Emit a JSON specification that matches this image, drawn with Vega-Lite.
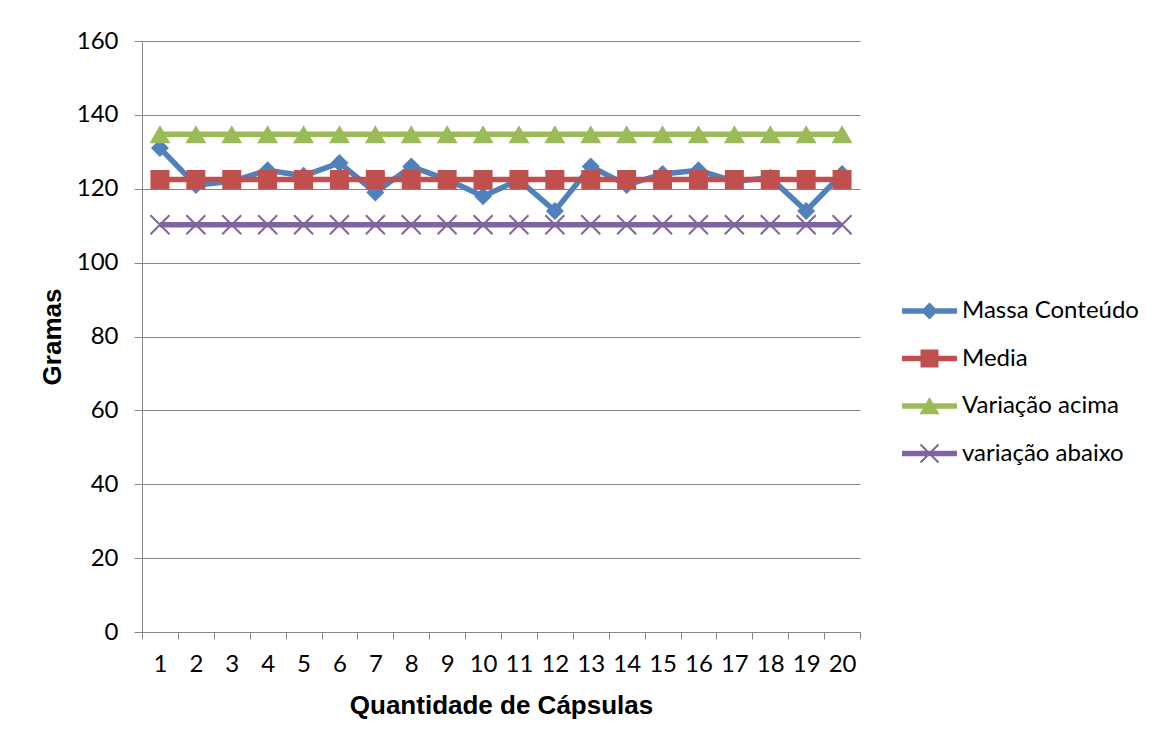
{
  "$schema": "https://vega.github.io/schema/vega-lite/v6.json",
  "width": 718,
  "height": 591,
  "autosize": {"type": "none"},
  "padding": {"left": 142, "top": 41, "right": 298, "bottom": 113},
  "background": "white",
  "config": {
    "view": {"stroke": null},
    "axis": {
      "domainColor": "#868686",
      "tickColor": "#868686",
      "gridColor": "#868686",
      "gridWidth": 1,
      "labelFont": "Lato",
      "labelFontSize": 24,
      "labelColor": "#000000",
      "titleFont": "Liberation Sans",
      "titleFontSize": 26,
      "titleFontWeight": "bold",
      "titleColor": "#000000"
    },
    "legend": {
      "labelFont": "Lato",
      "labelFontSize": 24,
      "labelColor": "#000000",
      "labelLimit": 0
    }
  },
  "data": {
    "values": [
      {"capsula": 1, "serie": "Massa Conteúdo", "valor": 131},
      {"capsula": 2, "serie": "Massa Conteúdo", "valor": 121},
      {"capsula": 3, "serie": "Massa Conteúdo", "valor": 122},
      {"capsula": 4, "serie": "Massa Conteúdo", "valor": 125},
      {"capsula": 5, "serie": "Massa Conteúdo", "valor": 123.5},
      {"capsula": 6, "serie": "Massa Conteúdo", "valor": 127},
      {"capsula": 7, "serie": "Massa Conteúdo", "valor": 119},
      {"capsula": 8, "serie": "Massa Conteúdo", "valor": 126},
      {"capsula": 9, "serie": "Massa Conteúdo", "valor": 122.5},
      {"capsula": 10, "serie": "Massa Conteúdo", "valor": 118},
      {"capsula": 11, "serie": "Massa Conteúdo", "valor": 122.4},
      {"capsula": 12, "serie": "Massa Conteúdo", "valor": 114},
      {"capsula": 13, "serie": "Massa Conteúdo", "valor": 126},
      {"capsula": 14, "serie": "Massa Conteúdo", "valor": 121},
      {"capsula": 15, "serie": "Massa Conteúdo", "valor": 124},
      {"capsula": 16, "serie": "Massa Conteúdo", "valor": 125},
      {"capsula": 17, "serie": "Massa Conteúdo", "valor": 122},
      {"capsula": 18, "serie": "Massa Conteúdo", "valor": 123},
      {"capsula": 19, "serie": "Massa Conteúdo", "valor": 114},
      {"capsula": 20, "serie": "Massa Conteúdo", "valor": 124},
      {"capsula": 1, "serie": "Media", "valor": 122.5},
      {"capsula": 2, "serie": "Media", "valor": 122.5},
      {"capsula": 3, "serie": "Media", "valor": 122.5},
      {"capsula": 4, "serie": "Media", "valor": 122.5},
      {"capsula": 5, "serie": "Media", "valor": 122.5},
      {"capsula": 6, "serie": "Media", "valor": 122.5},
      {"capsula": 7, "serie": "Media", "valor": 122.5},
      {"capsula": 8, "serie": "Media", "valor": 122.5},
      {"capsula": 9, "serie": "Media", "valor": 122.5},
      {"capsula": 10, "serie": "Media", "valor": 122.5},
      {"capsula": 11, "serie": "Media", "valor": 122.5},
      {"capsula": 12, "serie": "Media", "valor": 122.5},
      {"capsula": 13, "serie": "Media", "valor": 122.5},
      {"capsula": 14, "serie": "Media", "valor": 122.5},
      {"capsula": 15, "serie": "Media", "valor": 122.5},
      {"capsula": 16, "serie": "Media", "valor": 122.5},
      {"capsula": 17, "serie": "Media", "valor": 122.5},
      {"capsula": 18, "serie": "Media", "valor": 122.5},
      {"capsula": 19, "serie": "Media", "valor": 122.5},
      {"capsula": 20, "serie": "Media", "valor": 122.5},
      {"capsula": 1, "serie": "Variação acima", "valor": 134.75},
      {"capsula": 2, "serie": "Variação acima", "valor": 134.75},
      {"capsula": 3, "serie": "Variação acima", "valor": 134.75},
      {"capsula": 4, "serie": "Variação acima", "valor": 134.75},
      {"capsula": 5, "serie": "Variação acima", "valor": 134.75},
      {"capsula": 6, "serie": "Variação acima", "valor": 134.75},
      {"capsula": 7, "serie": "Variação acima", "valor": 134.75},
      {"capsula": 8, "serie": "Variação acima", "valor": 134.75},
      {"capsula": 9, "serie": "Variação acima", "valor": 134.75},
      {"capsula": 10, "serie": "Variação acima", "valor": 134.75},
      {"capsula": 11, "serie": "Variação acima", "valor": 134.75},
      {"capsula": 12, "serie": "Variação acima", "valor": 134.75},
      {"capsula": 13, "serie": "Variação acima", "valor": 134.75},
      {"capsula": 14, "serie": "Variação acima", "valor": 134.75},
      {"capsula": 15, "serie": "Variação acima", "valor": 134.75},
      {"capsula": 16, "serie": "Variação acima", "valor": 134.75},
      {"capsula": 17, "serie": "Variação acima", "valor": 134.75},
      {"capsula": 18, "serie": "Variação acima", "valor": 134.75},
      {"capsula": 19, "serie": "Variação acima", "valor": 134.75},
      {"capsula": 20, "serie": "Variação acima", "valor": 134.75},
      {"capsula": 1, "serie": "variação abaixo", "valor": 110.25},
      {"capsula": 2, "serie": "variação abaixo", "valor": 110.25},
      {"capsula": 3, "serie": "variação abaixo", "valor": 110.25},
      {"capsula": 4, "serie": "variação abaixo", "valor": 110.25},
      {"capsula": 5, "serie": "variação abaixo", "valor": 110.25},
      {"capsula": 6, "serie": "variação abaixo", "valor": 110.25},
      {"capsula": 7, "serie": "variação abaixo", "valor": 110.25},
      {"capsula": 8, "serie": "variação abaixo", "valor": 110.25},
      {"capsula": 9, "serie": "variação abaixo", "valor": 110.25},
      {"capsula": 10, "serie": "variação abaixo", "valor": 110.25},
      {"capsula": 11, "serie": "variação abaixo", "valor": 110.25},
      {"capsula": 12, "serie": "variação abaixo", "valor": 110.25},
      {"capsula": 13, "serie": "variação abaixo", "valor": 110.25},
      {"capsula": 14, "serie": "variação abaixo", "valor": 110.25},
      {"capsula": 15, "serie": "variação abaixo", "valor": 110.25},
      {"capsula": 16, "serie": "variação abaixo", "valor": 110.25},
      {"capsula": 17, "serie": "variação abaixo", "valor": 110.25},
      {"capsula": 18, "serie": "variação abaixo", "valor": 110.25},
      {"capsula": 19, "serie": "variação abaixo", "valor": 110.25},
      {"capsula": 20, "serie": "variação abaixo", "valor": 110.25}
    ]
  },
  "encoding": {
    "x": {
      "field": "capsula",
      "type": "ordinal",
      "scale": {"paddingInner": 0, "paddingOuter": 0},
      "axis": {
        "title": "Quantidade de Cápsulas",
        "labelAngle": 0,
        "tickBand": "extent",
        "tickSize": 7,
        "labelPadding": 13,
        "titlePadding": 16
      }
    },
    "y": {
      "field": "valor",
      "type": "quantitative",
      "scale": {"domain": [0, 160], "nice": false},
      "axis": {
        "title": "Gramas",
        "values": [0, 20, 40, 60, 80, 100, 120, 140, 160],
        "tickSize": 8,
        "labelPadding": 16,
        "titlePadding": 11,
        "grid": true
      }
    },
    "color": {
      "field": "serie",
      "type": "nominal",
      "scale": {
        "domain": ["Massa Conteúdo", "Media", "Variação acima", "variação abaixo"],
        "range": ["#4F81BD", "#C0504D", "#9BBB59", "#8064A2"]
      },
      "legend": {
        "title": null,
        "orient": "none",
        "legendX": 772.5,
        "legendY": 255,
        "padding": 0,
        "symbolSize": 900,
        "labelOffset": 17.5,
        "rowPadding": 20.5,
        "encode": {
          "symbols": {
            "update": {
              "shape": {"signal": "datum.value === 'Massa Conteúdo' ? 'M-1.83,-0.18L1.83,-0.18L1.83,0.18L-1.83,0.18ZM-0.57,0L0,-0.57L0.57,0L0,0.57Z' : datum.value === 'Media' ? 'M-1.83,-0.18L1.83,-0.18L1.83,0.18L-1.83,0.18ZM-0.6,-0.6L0.6,-0.6L0.6,0.6L-0.6,0.6Z' : datum.value === 'Variação acima' ? 'M-1.83,-0.18L1.83,-0.18L1.83,0.18L-1.83,0.18ZM-0.67,0.55L0,-0.6L0.67,0.55Z' : 'M-1.83,-0.18L1.83,-0.18L1.83,0.18L-1.83,0.18ZM-0.553,-0.647L0.647,0.553L0.553,0.647L-0.647,-0.553ZM-0.553,0.647L-0.647,0.553L0.553,-0.647L0.647,-0.553Z'"},
              "fill": {"scale": "color", "field": "value"},
              "stroke": {"value": "transparent"},
              "strokeWidth": {"value": 0},
              "opacity": {"value": 1}
            }
          }
        }
      }
    }
  },
  "layer": [
    {
      "mark": {"type": "line", "strokeWidth": 5.5}
    },
    {
      "transform": [{"filter": "datum.serie === 'Massa Conteúdo'"}],
      "mark": {"type": "point", "shape": "diamond", "filled": true, "size": 324, "opacity": 1}
    },
    {
      "transform": [{"filter": "datum.serie === 'Media'"}],
      "mark": {"type": "point", "shape": "square", "filled": true, "size": 361, "opacity": 1}
    },
    {
      "transform": [{"filter": "datum.serie === 'Variação acima'"}],
      "mark": {"type": "point", "shape": "triangle-up", "filled": true, "size": 441, "opacity": 1}
    },
    {
      "transform": [{"filter": "datum.serie === 'variação abaixo'"}],
      "mark": {"type": "point", "shape": "M-1,-1L1,1M1,-1L-1,1", "filled": false, "size": 361, "strokeWidth": 2, "opacity": 1}
    }
  ]
}
